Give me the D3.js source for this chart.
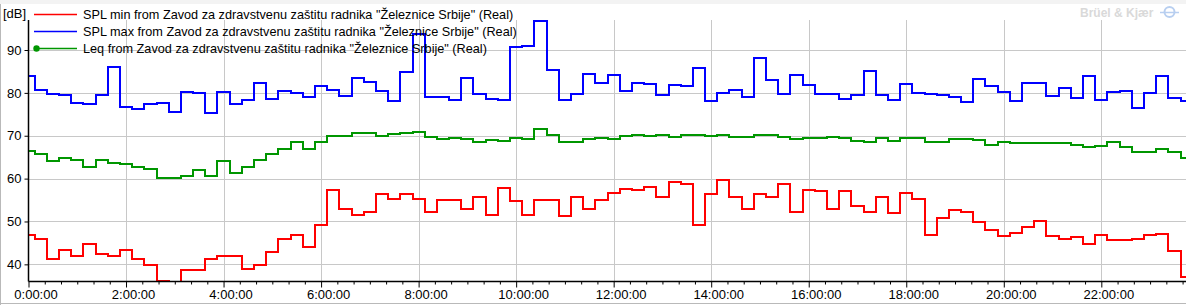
<!DOCTYPE html>
<html>
<head>
<meta charset="utf-8">
<script src="https://cdn.jsdelivr.net/npm/d3@7"></script>
<style>
  body { margin: 0; background: #fff; }
  text { font-family: "Liberation Sans", Arial, sans-serif; }
</style>
</head>
<body>
<div id="chart"></div>
<script>
// Data: 15 minute intervals, first interval starts 7.5 min before midnight
// =================================
var intervalMinutes = 15;
var firstStart = -7.5;

var splMin = [
  46.8, 45.8, 41.2, 43.3, 41.9, 44.7, 42.3, 41.9, 43.3, 41.2,
  39.8, 36.1, 35.0, 38.6, 38.6, 41.2, 41.9, 41.9, 38.8, 39.8,
  42.8, 46.0, 46.8, 44.0, 49.1, 57.4, 52.8, 51.6, 52.3, 56.3,
  55.3, 56.3, 55.2, 52.1, 55.0, 55.0, 52.8, 55.8, 51.6, 57.7,
  54.7, 51.6, 55.0, 55.0, 51.2, 55.6, 52.8, 55.0, 56.7, 57.5,
  57.3, 58.1, 55.6, 59.1, 58.8, 49.1, 56.3, 59.6, 55.6, 52.8,
  56.3, 55.6, 58.8, 52.1, 57.4, 57.1, 52.8, 57.1, 53.5, 52.3,
  55.8, 51.9, 56.7, 55.3, 46.8, 50.9, 52.6, 52.3, 49.8, 48.1,
  46.5, 47.4, 48.8, 50.2, 46.5, 45.8, 46.3, 44.7, 46.8, 45.6,
  45.6, 45.8, 46.8, 47.1, 43.0, 37.1
];

var splMax = [
  83.9, 80.7, 79.7, 79.4, 77.7, 77.4, 79.5, 86.0, 76.7, 76.3,
  77.4, 77.7, 75.6, 80.2, 80.0, 75.3, 80.2, 77.4, 78.4, 82.2,
  78.6, 80.4, 79.9, 79.1, 81.5, 80.7, 79.3, 83.4, 82.5, 80.4,
  78.1, 84.9, 93.7, 79.1, 79.1, 78.4, 83.4, 79.8, 78.6, 78.4,
  90.6, 90.9, 96.8, 85.4, 78.4, 79.8, 84.3, 82.2, 84.1, 80.5,
  82.2, 82.0, 79.5, 81.8, 81.5, 85.7, 78.1, 80.0, 80.7, 79.1,
  88.1, 82.9, 79.8, 84.1, 81.8, 79.7, 79.8, 78.6, 79.5, 85.0,
  79.5, 78.4, 82.0, 80.0, 79.8, 79.5, 79.1, 77.9, 83.2, 81.5,
  80.1, 78.1, 82.2, 82.2, 79.3, 81.1, 78.8, 83.9, 78.4, 80.1,
  80.4, 76.5, 80.0, 83.9, 78.8, 78.1
];

var leq = [
  66.5, 65.8, 64.2, 64.8, 64.4, 62.6, 64.3, 63.6, 63.3, 62.8,
  62.2, 60.2, 60.2, 60.5, 61.9, 60.5, 64.2, 61.2, 62.8, 64.4,
  65.8, 67.0, 68.6, 67.0, 68.6, 70.0, 70.0, 70.7, 70.7, 70.0,
  70.5, 70.7, 70.9, 69.8, 69.3, 69.5, 69.3, 68.6, 69.1, 68.8,
  69.5, 69.3, 71.6, 70.2, 68.6, 68.6, 69.3, 69.5, 69.3, 70.0,
  70.2, 70.0, 70.2, 69.8, 70.2, 70.2, 70.0, 70.2, 69.8, 69.8,
  70.2, 70.2, 69.8, 69.3, 69.5, 69.5, 69.8, 69.5, 68.8, 68.6,
  69.5, 68.8, 69.5, 69.5, 68.6, 68.6, 69.3, 69.3, 69.1, 67.9,
  68.6, 68.2, 68.2, 68.4, 68.2, 68.2, 67.9, 67.4, 67.7, 68.6,
  67.4, 66.3, 66.3, 67.0, 66.3, 64.7
];

var seriesNames = [
  'SPL min from Zavod za zdravstvenu zaštitu radnika "Železnice Srbije" (Real)',
  'SPL max from Zavod za zdravstvenu zaštitu radnika "Železnice Srbije" (Real)',
  'Leq from Zavod za zdravstvenu zaštitu radnika "Železnice Srbije" (Real)'
];
var seriesColors = ["#ff0000", "#0000ff", "#009600"];

var xTickLabels = ["0:00:00", "2:00:00", "4:00:00", "6:00:00", "8:00:00", "10:00:00",
                   "12:00:00", "14:00:00", "16:00:00", "18:00:00", "20:00:00", "22:00:00"];
var yTicks = [40, 50, 60, 70, 80, 90];

// Step 1: Set up our chart
// =================================
var svgWidth  = 1186;
var svgHeight = 305;

var plot = { left: 28.5, right: 1186, top: 20, bottom: 281.5 };

var svg = d3.select("#chart")
  .append("svg")
  .attr("width", svgWidth)
  .attr("height", svgHeight);

// frame
svg.append("rect")
  .attr("width", svgWidth).attr("height", svgHeight)
  .attr("fill", "#fff");
svg.append("rect")
  .attr("width", svgWidth).attr("height", 4)
  .attr("fill", "#f3f3f3");
svg.append("line")
  .attr("x1", 0.5).attr("x2", 0.5).attr("y1", 4).attr("y2", svgHeight)
  .attr("stroke", "#b9b9b9");
svg.append("line")
  .attr("x1", 0).attr("x2", svgWidth).attr("y1", 303.5).attr("y2", 303.5)
  .attr("stroke", "#b9b9b9");

// Step 2: Scales (minutes on x, dB on y)
// =================================
var xScale = d3.scaleLinear()
  .domain([0, 1424.2])
  .range([plot.left, plot.right]);

var yScale = d3.scaleLinear()
  .domain([36, 97])
  .range([plot.bottom, plot.top]);

var majorTicks = d3.range(0, 24 * 60, 120);
var minorTicks = d3.range(0, 1424, 20).filter(d => d % 120 !== 0);

// Step 3: Gridlines
// =================================
var grid = svg.append("g")
  .attr("stroke", "#c8c8c8")
  .attr("stroke-width", 1.3)
  .attr("shape-rendering", "crispEdges");

grid.selectAll("line.h")
  .data(yTicks)
  .enter().append("line")
  .attr("class", "h")
  .attr("x1", plot.left).attr("x2", plot.right)
  .attr("y1", d => Math.round(yScale(d)) + 0.5)
  .attr("y2", d => Math.round(yScale(d)) + 0.5);

grid.selectAll("line.v")
  .data(majorTicks.slice(1))
  .enter().append("line")
  .attr("class", "v")
  .attr("x1", d => Math.round(xScale(d)) + 0.5)
  .attr("x2", d => Math.round(xScale(d)) + 0.5)
  .attr("y1", plot.top).attr("y2", plot.bottom);

// Step 4: Step lines
// =================================
svg.append("clipPath")
  .attr("id", "plotClip")
  .append("rect")
  .attr("x", plot.left).attr("y", plot.top)
  .attr("width", plot.right - plot.left)
  .attr("height", plot.bottom - plot.top);

function toPoints(values) {
  var pts = values.map((v, i) => [firstStart + i * intervalMinutes, v]);
  pts.push([firstStart + values.length * intervalMinutes, values[values.length - 1]]);
  return pts;
}

var stepLine = d3.line()
  .x(d => xScale(d[0]))
  .y(d => yScale(d[1]))
  .curve(d3.curveStepAfter);

var linesGroup = svg.append("g")
  .attr("clip-path", "url(#plotClip)");

[splMin, splMax, leq].forEach(function(values, i) {
  linesGroup.append("path")
    .attr("d", stepLine(toPoints(values)))
    .attr("fill", "none")
    .attr("stroke", seriesColors[i])
    .attr("stroke-width", 2)
    .attr("shape-rendering", "crispEdges");
});

// Step 5: Axes
// =================================
var bottomAxis = d3.axisBottom(xScale)
  .tickValues(majorTicks)
  .tickSize(6)
  .tickFormat((d, i) => xTickLabels[i]);

var xAxisGroup = svg.append("g")
  .attr("transform", `translate(0, ${plot.bottom})`)
  .call(bottomAxis);

xAxisGroup.select(".domain").remove();
xAxisGroup.selectAll("text")
  .attr("dx", 7)
  .attr("y", 8)
  .attr("dy", "0.71em")
  .attr("font-size", 13)
  .attr("font-family", "Liberation Sans, Arial, sans-serif")
  .attr("fill", "#000");

var minorAxis = d3.axisBottom(xScale)
  .tickValues(minorTicks)
  .tickSize(3)
  .tickFormat("");

var minorGroup = svg.append("g")
  .attr("transform", `translate(0, ${plot.bottom})`)
  .call(minorAxis);
minorGroup.select(".domain").remove();

svg.append("line")
  .attr("x1", plot.left).attr("x2", plot.right)
  .attr("y1", plot.bottom).attr("y2", plot.bottom)
  .attr("stroke", "#000").attr("stroke-width", 1.5);

var leftAxis = d3.axisLeft(yScale)
  .tickValues(yTicks)
  .tickSize(4)
  .tickPadding(3);

var yAxisGroup = svg.append("g")
  .attr("transform", `translate(${plot.left}, 0)`)
  .call(leftAxis);

yAxisGroup.select(".domain").remove();
yAxisGroup.selectAll("text")
  .attr("font-size", 13)
  .attr("font-family", "Liberation Sans, Arial, sans-serif")
  .attr("fill", "#000");

svg.append("line")
  .attr("x1", plot.left).attr("x2", plot.left)
  .attr("y1", plot.top).attr("y2", plot.bottom)
  .attr("stroke", "#000").attr("stroke-width", 1.5);

svg.append("text")
  .attr("x", 3).attr("y", 18)
  .attr("font-size", 13)
  .text("[dB]");

// Step 6: Legend
// =================================
var legend = svg.append("g");
var legendItems = legend.selectAll("g")
  .data(seriesNames)
  .enter().append("g")
  .attr("transform", (d, i) => `translate(0, ${14 + 17 * i})`);

legendItems.append("line")
  .attr("x1", 34).attr("x2", 77)
  .attr("y1", 0.5).attr("y2", 0.5)
  .attr("stroke", (d, i) => seriesColors[i])
  .attr("stroke-width", 1.5);

legendItems.filter((d, i) => i === 2)
  .append("circle")
  .attr("cx", 36.5).attr("cy", 0.5).attr("r", 3.2)
  .attr("fill", seriesColors[2]);

legendItems.append("text")
  .attr("x", 83).attr("y", 5)
  .attr("font-size", 12.7)
  .attr("fill", "#000")
  .text(d => d);

// Step 7: Watermark
// =================================
svg.append("text")
  .attr("x", 1080).attr("y", 17)
  .attr("font-size", 12)
  .attr("font-weight", "bold")
  .attr("fill", "#d9d9d9")
  .text("Brüel & Kjær");

svg.append("circle")
  .attr("cx", 1169.5).attr("cy", 12).attr("r", 5)
  .attr("fill", "none")
  .attr("stroke", "#b8cff0")
  .attr("stroke-width", 2);
svg.append("line")
  .attr("x1", 1160).attr("x2", 1179).attr("y1", 12.5).attr("y2", 12.5)
  .attr("stroke", "#b8cff0").attr("stroke-width", 1.5);
</script>
</body>
</html>
